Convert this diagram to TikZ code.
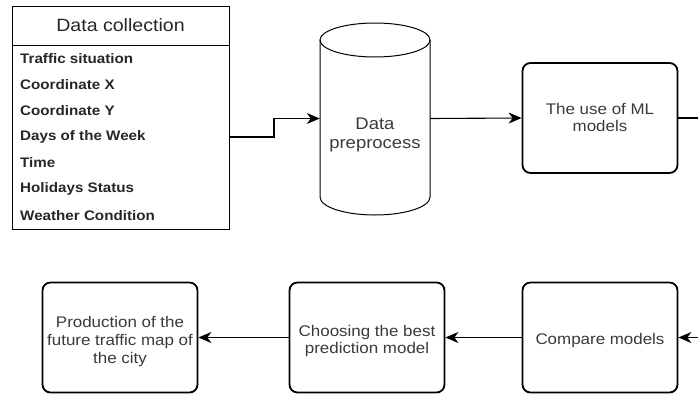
\documentclass[tikz,border=0pt]{standalone}
\usepackage{fontspec}
\setmainfont{Liberation Sans}[FakeStretch=1.1]
\usetikzlibrary{arrows.meta}
\definecolor{txt}{HTML}{3A3A3A}
\tikzset{
  procbox/.style={draw=black, line width=1.8pt, rounded corners=8pt,
    minimum width=155pt, minimum height=110pt, inner sep=0pt},
  boxtext/.style={align=center, text=txt,
    font=\fontsize{15.4}{17.8}\selectfont, inner sep=0pt},
  field/.style={anchor=west, font=\bfseries\fontsize{13.8}{15}\selectfont,
    text=black!85, inner sep=0pt},
  flowtip/.tip={Stealth[length=13pt,width=11pt,inset=4pt]},
  flow/.style={draw=black, line width=1.1pt, -flowtip}
}
\begin{document}
\begin{tikzpicture}[x=1pt,y=1pt]
\useasboundingbox (0,0) rectangle (698,-394);

% data collection table
\node[draw=black, line width=1pt, minimum width=217pt, minimum height=223pt,
      inner sep=0pt] (dc) at (120.5,-117.5) {};
\draw[line width=1pt] (12,-45) -- (229,-45);
\node[font=\fontsize{17.8}{19}\selectfont, text=black!85] (dchead) at (120.5,-25) {Data collection};
\node[field] (f1) at (20,-59) {Traffic situation};
\node[field] (f2) at (20,-85) {Coordinate X};
\node[field] (f3) at (20,-111) {Coordinate Y};
\node[field] (f4) at (20,-137) {Days of the Week};
\node[field] (f5) at (20,-163) {Time};
\node[field] (f6) at (20,-189) {Holidays Status};
\node[field] (f7) at (20,-216) {Weather Condition};

% data preprocess cylinder
\node[minimum width=110pt, minimum height=193pt, inner sep=0pt] (prep) at (375,-118.5) {};
\draw[line width=1pt] (375,-40) ellipse (55 and 17);
\draw[line width=1pt] (320,-40) -- (320,-197) arc (180:360:55 and 18) -- (430,-40);
\node[boxtext, font=\fontsize{16.8}{19}\selectfont] (preptext) at (375,-135) {Data\\preprocess};

% process boxes
\node[procbox] (ml) at (600,-118) {};
\node[boxtext] (mltext) at (600,-117.5) {The use of ML\\models};
\node[procbox] (cmp) at (600,-337.5) {};
\node[boxtext] (cmptext) at (600,-341) {Compare models};
\node[procbox] (best) at (367,-337.5) {};
\node[boxtext] (besttext) at (367,-341) {Choosing the best\\prediction model};
\node[procbox] (map) at (120,-337.5) {};
\node[boxtext] (maptext) at (120,-341.5) {Production of the\\future traffic map of\\the city};

% connectors
\coordinate (bend) at (274,-137);
\draw[flow] (dc.east |- f4) -- (bend) |- (prep.west);
\draw[flow] (prep.east) -- (ml.west);
\coordinate (loopa) at (712,-118);
\coordinate (loopb) at (712,-337.5);
\draw[flow] (ml.east) -- (loopa) -- (loopb) -- (cmp.east);
\draw[flow] (cmp.west) -- (best.east);
\draw[flow] (best.west) -- (map.east);
\end{tikzpicture}
\end{document}
